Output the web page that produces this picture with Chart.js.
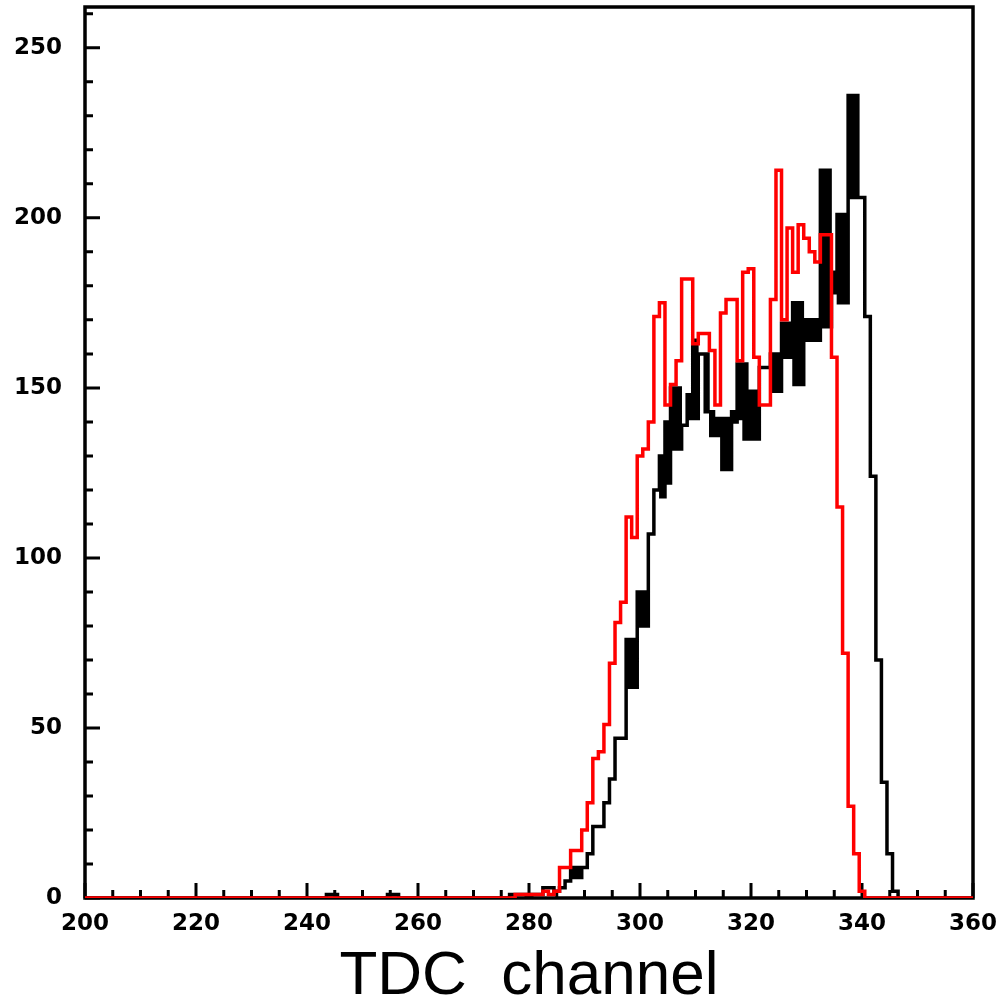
<!DOCTYPE html>
<html>
<head>
<meta charset="utf-8">
<script src="https://cdn.jsdelivr.net/npm/chart.js@4/dist/chart.umd.min.js"></script>
<style>
  html, body { margin: 0; padding: 0; background: #fff; }
  #wrap { width: 999px; height: 1002px; }
</style>
</head>
<body>
<div id="wrap"><canvas id="chart" width="999" height="1002"></canvas></div>
<script>
// tick labels
const xTicks = [200, 220, 240, 260, 280, 300, 320, 340, 360];
const yTicks = [0, 50, 100, 150, 200, 250];

// red histogram, one value per TDC channel starting at redStart
const redStart = 276;
const redCounts = [
  0, 0, 1, 1, 1, 1, 1, 2, 1, 2,          // 276-285
  9, 9, 14, 14, 20, 28, 41, 43, 51, 69,   // 286-295
  81, 87, 112, 106, 130, 132, 140, 171, 175, 145, // 296-305
  151, 158, 182, 182, 163, 166, 166, 161, 145, 172, // 306-315
  176, 176, 158, 184, 185, 159, 145, 145, 176, 214, // 316-325
  170, 197, 184, 198, 194, 190, 187, 195, 195, 159, // 326-335
  115, 72, 27, 13, 2, 0, 0                 // 336-342
];

// black histogram: finer binning, low/high envelope per channel starting at blackStart
const blackStart = 240;
const blackLow = [
  0, 0, 0, 0, 1, 1, 0, 0, 0, 0,           // 240-249
  0, 0, 0, 0, 0, 1, 1, 0, 0, 0,           // 250-259
  0, 0, 0, 0, 0, 0, 0, 0, 0, 0,           // 260-269
  0, 0, 0, 0, 0, 0, 0, 1, 1, 1,           // 270-279
  0, 1, 1, 3, 3, 2, 3, 5, 6, 6,           // 280-289
  9, 13, 21, 21, 28, 35, 47, 47, 62, 62,  // 290-299
  80, 80, 107, 120, 118, 122, 132, 132, 139, 141, // 300-309
  141, 160, 143, 136, 136, 126, 126, 140, 141, 135, // 310-319
  135, 135, 156, 156, 149, 149, 159, 159, 151, 151, // 320-329
  164, 164, 164, 168, 168, 178, 175, 175, 206, 206, // 330-339
  206, 171, 124, 70, 34, 13, 2, 0          // 340-347
];
const blackHigh = [
  0, 0, 0, 0, 1, 1, 0, 0, 0, 0,
  0, 0, 0, 0, 0, 1, 1, 0, 0, 0,
  0, 0, 0, 0, 0, 0, 0, 0, 0, 0,
  0, 0, 0, 0, 0, 0, 0, 1, 1, 1,
  0, 1, 1, 3, 3, 2, 3, 5, 9, 9,
  9, 13, 21, 21, 28, 35, 47, 47, 76, 76,
  90, 90, 107, 120, 130, 140, 150, 150, 139, 148,
  164, 160, 160, 143, 141, 141, 141, 143, 157, 157,
  149, 149, 156, 156, 160, 160, 169, 169, 175, 175,
  170, 170, 170, 214, 214, 184, 201, 201, 236, 236,
  206, 171, 124, 70, 34, 13, 2, 0
];

const xMin = 200, xMax = 360;

function stepPoints(start, lows, highs) {
  const pts = [{ x: xMin, y: 0 }, { x: start - 0.5, y: 0 }];
  const sub = 4;
  lows.forEach((lo, i) => {
    const c = start + i;
    const hi = highs ? highs[i] : lo;
    if (hi === lo) {
      pts.push({ x: c - 0.5, y: lo }, { x: c + 0.5, y: lo });
    } else {
      for (let k = 0; k < sub; k++) {
        const v = k % 2 === 0 ? hi : lo;
        pts.push({ x: c - 0.5 + k / sub, y: v }, { x: c - 0.5 + (k + 1) / sub, y: v });
      }
    }
  });
  pts.push({ x: start + lows.length - 0.5, y: 0 }, { x: xMax, y: 0 });
  return pts;
}

const frame = {
  id: "frame",
  beforeDatasetsDraw(chart) {
    const { ctx, chartArea: a, scales } = chart;
    const x = scales.x, y = scales.y;
    ctx.save();
    ctx.strokeStyle = "#000";
    ctx.lineWidth = 3.5;
    ctx.strokeRect(a.left, a.top, a.right - a.left, a.bottom - a.top);
    ctx.lineWidth = 3;
    ctx.beginPath();
    for (let v = xMin; v <= xMax; v += 5) {
      const px = x.getPixelForValue(v);
      const len = v % 20 === 0 ? 15 : 8;
      ctx.moveTo(px, a.bottom);
      ctx.lineTo(px, a.bottom - len);
    }
    for (let v = 0; v <= y.max; v += 10) {
      const py = y.getPixelForValue(v);
      const len = v % 50 === 0 ? 15 : 8;
      ctx.moveTo(a.left, py);
      ctx.lineTo(a.left + len, py);
    }
    ctx.stroke();
    ctx.restore();
  }
};

const tickFont = { family: "'DejaVu Sans', sans-serif", size: 23, weight: "bold" };

new Chart(document.getElementById("chart"), {
  type: "line",
  data: {
    datasets: [
      {
        label: "red",
        data: stepPoints(redStart, redCounts),
        borderColor: "#ff0000",
        borderWidth: 3.5,
        pointRadius: 0,
        tension: 0,
        fill: false
      },
      {
        label: "black",
        data: stepPoints(blackStart, blackLow, blackHigh),
        borderColor: "#000000",
        borderWidth: 3.5,
        pointRadius: 0,
        tension: 0,
        fill: false
      }
    ]
  },
  options: {
    responsive: false,
    animation: false,
    parsing: false,
    layout: { padding: { top: 7, right: 26, left: 0, bottom: 0 } },
    plugins: { legend: { display: false }, tooltip: { enabled: false } },
    scales: {
      x: {
        type: "linear",
        min: xMin,
        max: xMax,
        afterBuildTicks: (s) => { s.ticks = xTicks.map((v) => ({ value: v })); },
        afterFit: (s) => { s.height = 104; s.paddingLeft = 0; s.paddingRight = 0; },
        grid: { display: false, drawTicks: false },
        border: { display: false },
        ticks: { autoSkip: false, maxRotation: 0, padding: 12, color: "#000", font: tickFont },
        title: {
          display: true,
          text: "TDC  channel",
          color: "#000",
          font: { family: "'Liberation Sans', Arial, sans-serif", size: 62, lineHeight: 1 },
          padding: { top: 0, bottom: -6 }
        }
      },
      y: {
        type: "linear",
        min: 0,
        max: 262,
        afterBuildTicks: (s) => { s.ticks = yTicks.map((v) => ({ value: v })); },
        afterFit: (s) => { s.width = 85; s.paddingTop = 0; s.paddingBottom = 0; },
        grid: { display: false, drawTicks: false },
        border: { display: false },
        ticks: { autoSkip: false, padding: 23, color: "#000", font: tickFont }
      }
    }
  },
  plugins: [frame]
});
</script>
</body>
</html>
